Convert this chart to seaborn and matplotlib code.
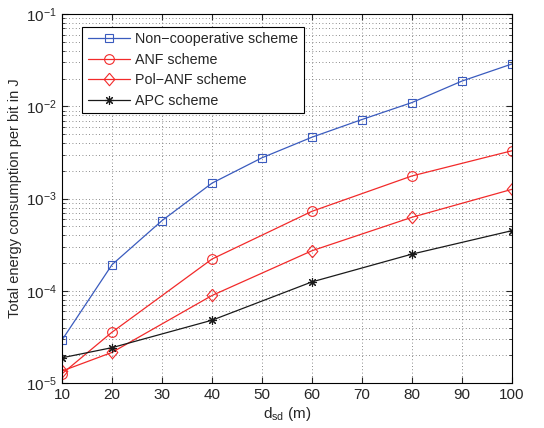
import numpy as np
import pandas as pd
import matplotlib
matplotlib.use("Agg")
import matplotlib.pyplot as plt
import seaborn as sns
from matplotlib.ticker import LogLocator, FixedLocator

# Data
x_noncoop = [10, 20, 30, 40, 50, 60, 70, 80, 90, 100]
y_noncoop = [2.93e-5, 1.92e-4, 5.77e-4, 1.47e-3, 2.77e-3, 4.63e-3, 7.2e-3, 1.1e-2, 1.88e-2, 2.88e-2]
x_anf = [10, 20, 40, 60, 80, 100]
y_anf = [1.26e-5, 3.56e-5, 2.21e-4, 7.28e-4, 1.76e-3, 3.3e-3]
x_polanf = [10, 20, 40, 60, 80, 100]
y_polanf = [1.35e-5, 2.15e-5, 8.9e-5, 2.72e-4, 6.27e-4, 1.26e-3]
x_apc = [10, 20, 40, 60, 80, 100]
y_apc = [1.88e-5, 2.42e-5, 4.8e-5, 1.25e-4, 2.5e-4, 4.49e-4]
labels = ["Non\u2212cooperative scheme", "ANF scheme", "Pol\u2212ANF scheme", "APC scheme"]
x_ticks = [10, 20, 30, 40, 50, 60, 70, 80, 90, 100]

sns.set_style("ticks")
plt.rcParams['font.family'] = ['Liberation Sans', 'DejaVu Sans']
plt.rcParams['mathtext.fontset'] = 'custom'
plt.rcParams['mathtext.rm'] = 'Liberation Sans'
plt.rcParams['mathtext.it'] = 'Liberation Sans:italic'
plt.rcParams['mathtext.bf'] = 'Liberation Sans:bold'

frames = []
for xs, ys, lab in [(x_noncoop, y_noncoop, labels[0]), (x_anf, y_anf, labels[1]),
                    (x_polanf, y_polanf, labels[2]), (x_apc, y_apc, labels[3])]:
    frames.append(pd.DataFrame({"x": xs, "y": ys, "scheme": lab}))
df = pd.concat(frames, ignore_index=True)

diamond = [(0, 1), (0.85, 0), (0, -1), (-0.85, 0), (0, 1)]
colors = {labels[0]: '#3A5BBE', labels[1]: '#F22A2A', labels[2]: '#F22A2A', labels[3]: '#1a1a1a'}
markers = {labels[0]: 's', labels[1]: 'o', labels[2]: diamond, labels[3]: (8, 2, 0)}
msizes = {labels[0]: 5.5, labels[1]: 7, labels[2]: 9, labels[3]: 6.5}

fig = plt.figure(figsize=(5.44, 4.28), dpi=100)
ax = fig.add_axes([0.114, 0.105, 0.827, 0.862])

for lab in labels:
    sub = df[df.scheme == lab]
    sns.lineplot(data=sub, x="x", y="y", ax=ax, color=colors[lab], marker=markers[lab],
                 markersize=msizes[lab], markerfacecolor='none', markeredgecolor=colors[lab],
                 markeredgewidth=0.8, linewidth=0.9, label=lab)

ax.set_yscale('log')
ax.set_xlim(10, 100)
ax.set_ylim(1e-5, 1e-1)
ax.xaxis.set_major_locator(FixedLocator(x_ticks))
ax.yaxis.set_major_locator(LogLocator(base=10, numticks=10))
ax.yaxis.set_minor_locator(LogLocator(base=10, subs=np.arange(2, 10), numticks=20))
ax.tick_params(which='both', direction='in', top=True, right=True, labelsize=11)
ax.tick_params(which='major', length=4, width=0.8)
ax.tick_params(which='minor', length=2, width=0.6)
ax.grid(True, which='major', linestyle=(0, (1, 3)), color='#666666', linewidth=0.6)
ax.grid(True, which='minor', axis='y', linestyle=(0, (1, 3)), color='#666666', linewidth=0.6)
for s in ax.spines.values():
    s.set_linewidth(0.8)
    s.set_color('black')

ax.set_xlabel(r'd$_{\rm sd}$ (m)', fontsize=11, labelpad=2)
ax.set_ylabel('Total energy consumption per bit in J', fontsize=10.5, labelpad=3)

leg = ax.legend(loc='upper left', bbox_to_anchor=(0.044, 0.966), borderaxespad=0, fontsize=10.3,
                frameon=True, fancybox=False, edgecolor='black', framealpha=1,
                handlelength=3.0, borderpad=0.4, labelspacing=0.45, handletextpad=0.35)
leg.get_frame().set_linewidth(0.8)

fig.savefig("out.png", dpi=100)
